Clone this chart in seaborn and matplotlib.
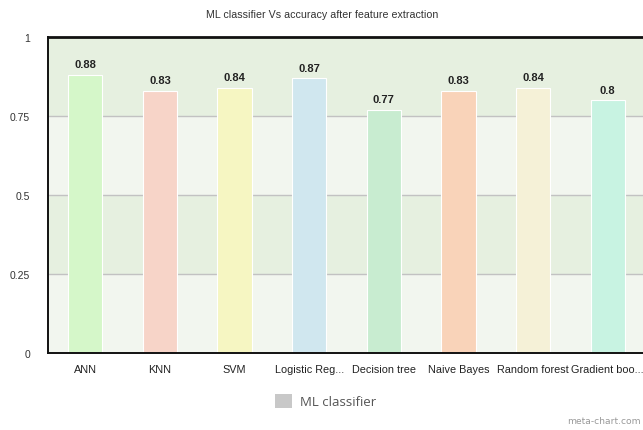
import matplotlib
matplotlib.use("Agg")
import matplotlib.pyplot as plt
import seaborn as sns
import pandas as pd
from matplotlib.patches import Patch

classifiers = ["ANN", "KNN", "SVM", "Logistic Reg...", "Decision tree",
               "Naive Bayes", "Random forest", "Gradient boo..."]
accuracy = [0.88, 0.83, 0.84, 0.87, 0.77, 0.83, 0.84, 0.80]
bar_colors = ["#d5f7c9", "#f7d4c8", "#f6f6c2", "#d0e7ef",
              "#c8ecd0", "#f9d3b9", "#f5f1d7", "#c8f3e2"]
y_ticks = [0, 0.25, 0.5, 0.75, 1]
y_tick_labels = ["0", "0.25", "0.5", "0.75", "1"]

sns.set_style("white")
plt.rcParams["font.family"] = ["Liberation Sans", "DejaVu Sans"]

df = pd.DataFrame({"classifier": classifiers, "accuracy": accuracy})

fig = plt.figure(figsize=(6.43, 4.31), dpi=100)
fig.patch.set_facecolor("white")
ax = fig.add_axes([48 / 643, 77 / 431, 597 / 643, 316 / 431])
ax.set_facecolor("#f2f6ef")

# alternating horizontal bands
band_colors = ["#f2f6ef", "#e6f0e0", "#f2f6ef", "#e6f0e0"]
for lo, hi, c in zip(y_ticks[:-1], y_ticks[1:], band_colors):
    ax.axhspan(lo, hi, color=c, zorder=0, lw=0)
for y in y_ticks[1:-1]:
    ax.axhline(y, color="#c2c2c2", lw=1, zorder=0.5)

sns.barplot(data=df, x="classifier", y="accuracy", hue="classifier",
            palette=bar_colors, saturation=1, legend=False, width=0.46, ax=ax,
            edgecolor="white", linewidth=0.8, zorder=2)

for cont in ax.containers:
    ax.bar_label(cont, labels=[f"{v:g}" for v in cont.datavalues],
                 padding=4, fontsize=8, fontweight="bold", color="#222222")

ax.set_xlim(-0.5, len(classifiers) - 0.5)
ax.set_ylim(0, 1)
ax.set_yticks(y_ticks)
ax.set_yticklabels(y_tick_labels)
ax.set_xlabel("")
ax.set_ylabel("")

ax.tick_params(axis="y", length=10, width=0.8, color="#aaaaaa",
               labelsize=7.5, labelcolor="#333333", pad=3)
ax.tick_params(axis="x", which="major", length=0, labelsize=7.8,
               labelcolor="#222222", pad=8)
ax.set_xticks([i - 0.5 for i in range(len(classifiers) + 1)], minor=True)
ax.tick_params(axis="x", which="minor", length=10, width=0.8, color="#cccccc")

for side in ["left", "top", "bottom"]:
    ax.spines[side].set_visible(True)
    ax.spines[side].set_color("#111111")
ax.spines["left"].set_linewidth(1.4)
ax.spines["bottom"].set_linewidth(1.4)
ax.spines["top"].set_linewidth(2.0)
ax.spines["right"].set_visible(False)

fig.text(322 / 643, 1 - 15 / 431, "ML classifier Vs accuracy after feature extraction",
         ha="center", va="center", fontsize=7.7, color="#333333")

leg = fig.legend(handles=[Patch(facecolor="#c8c8c8", edgecolor="none", label="ML classifier")],
                 loc="center", bbox_to_anchor=(326 / 643, 1 - 402 / 431),
                 frameon=False, fontsize=9.5, handlelength=1.3, handleheight=1.3,
                 handletextpad=0.6)
for t in leg.get_texts():
    t.set_color("#555555")
    t.set_family(["Open Sans", "DejaVu Sans"])

fig.text(641 / 643, 1 - 422 / 431, "meta-chart.com", ha="right", va="center",
         fontsize=6.6, color="#999999", family=["DejaVu Sans"])

fig.savefig("out.png", dpi=100)
